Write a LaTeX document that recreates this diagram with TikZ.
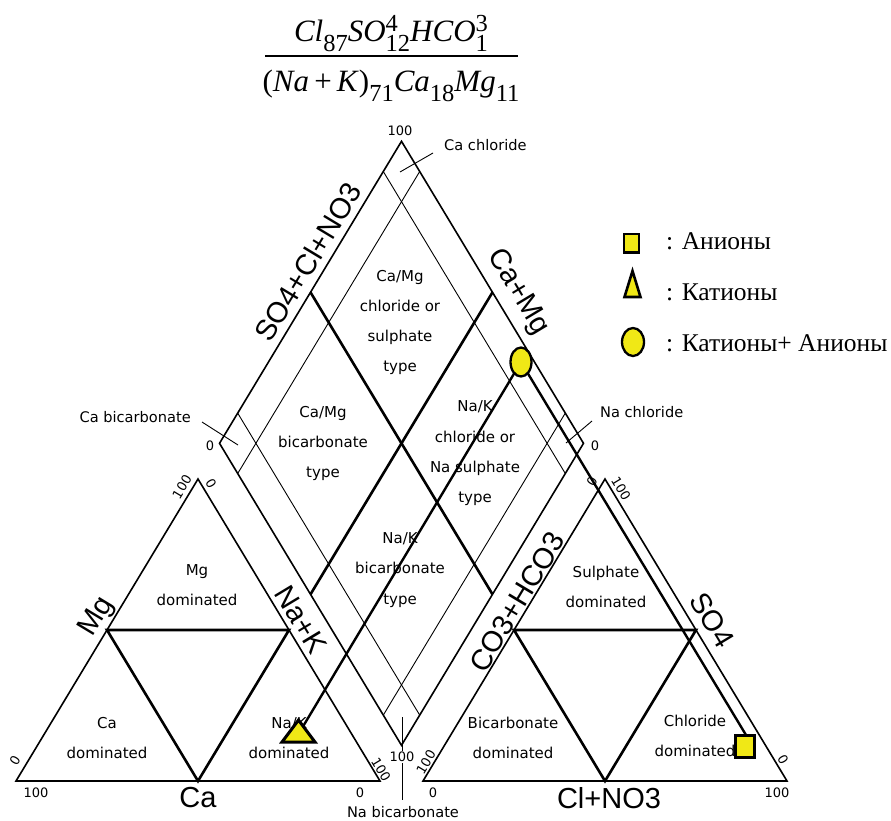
\documentclass[tikz,border=0pt]{standalone}
\usepackage{amsmath}
\usepackage{fontspec}
\setmainfont{Liberation Serif}
\newfontfamily\lblfont{DejaVu Sans}
\newfontfamily\axfont{Liberation Sans}
\usetikzlibrary{calc,shapes.geometric}
\definecolor{markyellow}{RGB}{240,232,22}
\newcommand{\fsup}[2]{\makebox[0pt][l]{\raisebox{10pt}{\fontsize{24.5}{24}\selectfont\upshape #1}}\raisebox{-9.5pt}{\fontsize{24.5}{24}\selectfont\upshape #2}}
\newcommand{\fsub}[1]{\raisebox{-9.5pt}{\fontsize{24.5}{24}\selectfont\upshape #1}}
\begin{document}
\begin{tikzpicture}[x=1pt,y=-1pt,
  outline/.style={line width=1.6pt,line join=miter},
  thickdiv/.style={line width=2.6pt,line join=miter},
  thinline/.style={line width=0.9pt},
  projline/.style={line width=2.4pt},
  regionlbl/.style={font=\fontsize{15}{30.3}\selectfont\lblfont,align=center,inner sep=0pt},
  numlbl/.style={font=\fontsize{13}{14}\selectfont\lblfont,inner sep=0.5pt},
  notelbl/.style={font=\fontsize{14.6}{16}\selectfont\lblfont,inner sep=0pt},
  axislbl/.style={font=\fontsize{29}{30}\selectfont\axfont,inner sep=0pt},
  leglbl/.style={font=\fontsize{25.5}{26}\selectfont,anchor=base west,inner sep=0pt},
  markstyle/.style={fill=markyellow,draw=black,line join=miter}
]
\useasboundingbox (0,0) rectangle (891,820);

% formula
\node[anchor=base,inner sep=0pt,font=\fontsize{31}{32}\selectfont] (num) at (391,41.7)
  {\itshape Cl\fsub{87}SO\fsup{4}{12}HCO\fsup{3}{1}};
\node[anchor=base,inner sep=0pt,font=\fontsize{31}{32}\selectfont] (den) at (391,91.7)
  {(\textit{Na}\,+\,\textit{K})\fsub{71}\textit{Ca}\fsub{18}\textit{Mg}\fsub{11}};
\coordinate (barL) at (265,56);
\coordinate (barR) at (518,56);
\draw[line width=1.3pt] (barL) -- (barR);

% main vertices
\coordinate (A) at (16,781);
\coordinate (B) at (380,781);
\coordinate (C) at (198,479);
\coordinate (D) at (423,781);
\coordinate (E) at (787,781);
\coordinate (F) at (605,479);
\coordinate (Bt) at (401.5,745.3);
\coordinate (Lt) at (219.5,443.3);
\coordinate (Tp) at (401.5,141.3);
\coordinate (Rt) at (583.5,443.3);

% triangles
\draw[outline] (A) -- (B) -- (C) -- cycle;
\draw[thickdiv] ($(A)!0.5!(C)$) -- ($(B)!0.5!(C)$) -- ($(A)!0.5!(B)$) -- cycle;
\draw[outline] (D) -- (E) -- (F) -- cycle;
\draw[thickdiv] ($(D)!0.5!(F)$) -- ($(E)!0.5!(F)$) -- ($(D)!0.5!(E)$) -- cycle;

% diamond
\draw[outline] (Bt) -- (Rt) -- (Tp) -- (Lt) -- cycle;
\draw[thinline] ($(Bt)!0.1!(Rt)$) -- ($(Lt)!0.1!(Tp)$);
\draw[thinline] ($(Bt)!0.9!(Rt)$) -- ($(Lt)!0.9!(Tp)$);
\draw[thinline] ($(Bt)!0.1!(Lt)$) -- ($(Rt)!0.1!(Tp)$);
\draw[thinline] ($(Bt)!0.9!(Lt)$) -- ($(Rt)!0.9!(Tp)$);
\draw[thickdiv] ($(Bt)!0.5!(Rt)$) -- ($(Lt)!0.5!(Tp)$);
\draw[thickdiv] ($(Bt)!0.5!(Lt)$) -- ($(Rt)!0.5!(Tp)$);

% region labels
\node[regionlbl] (rMg) at (197,585) {Mg\\dominated};
\node[regionlbl] (rCa) at (107,738) {Ca\\dominated};
\node[regionlbl] (rNa) at (289,738) {Na/K\\dominated};
\node[regionlbl] (rSu) at (606,587) {Sulphate\\dominated};
\node[regionlbl] (rBi) at (513,738) {Bicarbonate\\dominated};
\node[regionlbl] (rCl) at (695,736) {Chloride\\dominated};
\node[regionlbl] (dTop) at (400,322.5) {Ca/Mg\\chloride or\\sulphate\\type};
\node[regionlbl] (dLeft) at (323,443.5) {Ca/Mg\\bicarbonate\\type};
\node[regionlbl] (dRight) at (475,453.5) {Na/K\\chloride or\\Na sulphate\\type};
\node[regionlbl] (dBot) at (400,570) {Na/K\\bicarbonate\\type};

% axis labels
\node[axislbl,rotate=58.93] (axSO) at (308,262) {SO4+Cl+NO3};
\node[axislbl,rotate=-58.93] (axCaMg) at (518,292) {Ca+Mg};
\node[axislbl,rotate=58.93] (axMg) at (97,617) {Mg};
\node[axislbl,rotate=-58.93] (axNaK) at (301,620) {Na+K};
\node[axislbl,rotate=58.93] (axCO) at (517,602) {CO3+HCO3};
\node[axislbl,rotate=-58.93] (axSO4) at (712,620) {SO4};
\node[axislbl] (axCa) at (198,798) {Ca};
\node[axislbl] (axCl) at (609,798) {Cl+NO3};

% number labels
\node[numlbl,rotate=58.93] (n1) at (15,761) {0};
\node[numlbl] (n2) at (36,793) {100};
\node[numlbl,rotate=58.93] (n3) at (182,487) {100};
\node[numlbl,rotate=-58.93] (n4) at (211,484) {0};
\node[numlbl,rotate=-58.93] (n5) at (381,770) {100};
\node[numlbl] (n6) at (360,793) {0};
\node[numlbl,rotate=58.93] (n7) at (426,762) {100};
\node[numlbl] (n8) at (433,793) {0};
\node[numlbl,rotate=58.93] (n9) at (592,482) {0};
\node[numlbl,rotate=-58.93] (n10) at (621,489) {100};
\node[numlbl,rotate=-58.93] (n11) at (783,760) {0};
\node[numlbl] (n12) at (777,793) {100};
\node[numlbl] (n13) at (400,131) {100};
\node[numlbl] (n14) at (210,446) {0};
\node[numlbl] (n15) at (595,446) {0};

% corner notes and leaders
\node[notelbl,anchor=west] (cacl) at (444,145) {Ca chloride};
\coordinate (caclA) at (433,153);
\coordinate (caclB) at (400,172);
\draw[thinline] (caclA) -- (caclB);
\node[notelbl,anchor=east] (cabi) at (191,417) {Ca bicarbonate};
\coordinate (cabiA) at (202,422);
\coordinate (cabiB) at (238,445);
\draw[thinline] (cabiA) -- (cabiB);
\node[notelbl,anchor=west] (nacl) at (600,412) {Na chloride};
\coordinate (naclA) at (592,421);
\coordinate (naclB) at (566,443);
\draw[thinline] (naclA) -- (naclB);
\node[notelbl] (nabi) at (403,812) {Na bicarbonate};
\coordinate (nabiA) at (402,717);
\coordinate (nabiB) at (402,800);
\draw[thinline] (nabiA) -- (nabiB);
\node[numlbl,fill=white,inner sep=1pt] (n16) at (402,757) {100};

% data points
\coordinate (cm) at (521,362);
\coordinate (tm) at (298.5,734);
\coordinate (sm) at (745,746.5);
\coordinate (smtop) at (746,735);
\draw[projline] (cm) -- (tm);
\draw[projline] (cm) -- (smtop);
\draw[markstyle,line width=3pt] (298.5,720) -- (315,742) -- (282,742) -- cycle;
\draw[markstyle,line width=2.5pt] (735.5,735.5) rectangle (754.5,757.5);
\draw[markstyle,line width=2.3pt] (cm) ellipse [x radius=10.5, y radius=14.5];

% legend
\draw[markstyle,line width=2.4pt] (624,234) rectangle (639,252.5);
\draw[markstyle,line width=2.6pt] (632.5,271) -- (640.5,297) -- (624.5,297) -- cycle;
\draw[markstyle,line width=2.3pt] (633,342) ellipse [x radius=11, y radius=14];
\node[leglbl] (lg1) at (666,249.5) {: Анионы};
\node[leglbl] (lg2) at (666,300) {: Катионы};
\node[leglbl] (lg3) at (666,351) {: Катионы+ Анионы};
\end{tikzpicture}
\end{document}
